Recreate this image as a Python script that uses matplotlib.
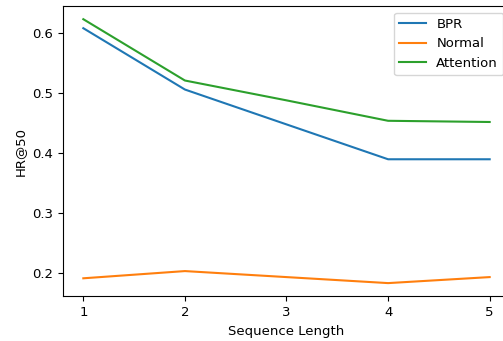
import matplotlib
matplotlib.use('Agg')
import matplotlib.pyplot as plt

seq_len = [1, 2, 3, 4, 5]
bpr = [0.608, 0.506, 0.448, 0.390, 0.390]
normal = [0.192, 0.204, 0.194, 0.184, 0.194]
attention = [0.623, 0.521, 0.488, 0.454, 0.452]

plt.rcParams['font.size'] = 9.5

fig = plt.figure(figsize=(5.03, 3.41), dpi=100)
# axes runs a bit past the right edge, like the cropped original
ax = fig.add_axes([63 / 503, 44.7 / 341, 447 / 503, 290.3 / 341])
ax.plot(seq_len, bpr, label='BPR')
ax.plot(seq_len, normal, label='Normal')
ax.plot(seq_len, attention, label='Attention')
ax.set_xlabel('Sequence Length')
ax.set_ylabel('HR@50')
ax.set_xticks(seq_len)
ax.legend(loc='upper right')

fig.savefig('out.png', dpi=100)
